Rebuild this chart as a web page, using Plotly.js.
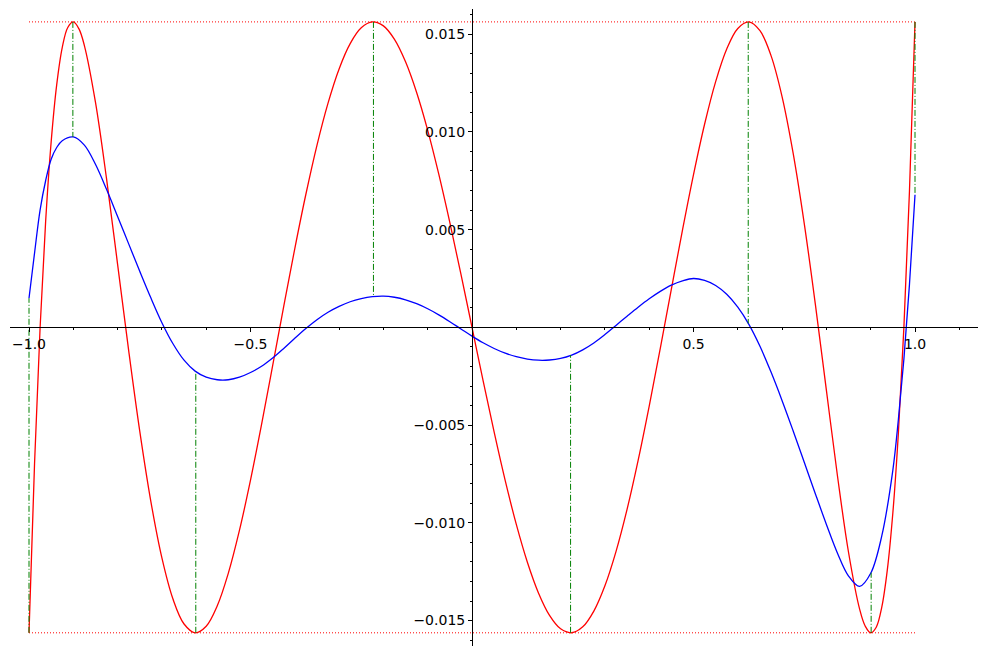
<!DOCTYPE html>
<html>
<head>
<meta charset="utf-8">
<script src="https://cdn.plot.ly/plotly-3.0.1.min.js"></script>
<style>html,body{margin:0;padding:0;background:#fff;}#chart{width:987px;height:656px;}</style>
</head>
<body>
<div id="chart"></div>
<script>
// Red curve (equioscillating polynomial)
const redX = [-1, -0.9875, -0.975, -0.9625, -0.95, -0.9375, -0.925, -0.9125, -0.9, -0.8875, -0.875, -0.85, -0.825, -0.8, -0.775, -0.75, -0.725, -0.7, -0.675, -0.65, -0.625, -0.6, -0.575, -0.55, -0.525, -0.5, -0.475, -0.45, -0.425, -0.4, -0.375, -0.35, -0.325, -0.3, -0.275, -0.25, -0.225, -0.2, -0.175, -0.15, -0.125, -0.1, -0.075, -0.05, -0.025,
  0, 0.025, 0.05, 0.075, 0.1, 0.125, 0.15, 0.175, 0.2, 0.225, 0.25, 0.275, 0.3, 0.325, 0.35, 0.375, 0.4, 0.425, 0.45, 0.475, 0.5, 0.525, 0.55, 0.575, 0.6, 0.625, 0.65, 0.675, 0.7, 0.725, 0.75, 0.775, 0.8, 0.825, 0.85, 0.875, 0.8875, 0.9, 0.9125, 0.925, 0.9375, 0.95, 0.9625, 0.975, 0.9875, 1];
const redY = [-0.015625, -0.006977, -0.000036, 0.0054, 0.009482, 0.012404, 0.014311, 0.015339, 0.015623, 0.015279, 0.014416, 0.011517, 0.007604, 0.003225, -0.001189, -0.005310, -0.008899, -0.011794, -0.013900, -0.015175, -0.015624, -0.015289, -0.014241, -0.012571, -0.010390, -0.007813, -0.004962, -0.001960, 0.001075, 0.004032, 0.006808, 0.009314, 0.011472, 0.013221, 0.014514, 0.015320, 0.015622, 0.015422, 0.014733, 0.013584, 0.012016, 0.010080, 0.007838, 0.005357, 0.002721,
  0, -0.002721, -0.005357, -0.007838, -0.010080, -0.012016, -0.013584, -0.014733, -0.015422, -0.015622, -0.015320, -0.014514, -0.013221, -0.011472, -0.009314, -0.006808, -0.004032, -0.001075, 0.001960, 0.004962, 0.007813, 0.010390, 0.012571, 0.014241, 0.015289, 0.015624, 0.015175, 0.013900, 0.011794, 0.008899, 0.005310, 0.001189, -0.003225, -0.007604, -0.011517, -0.014416, -0.015279, -0.015623, -0.015339, -0.014311, -0.012404, -0.009482, -0.0054, 0.000036, 0.006977, 0.015625];

// Blue curve, values
const blueX = [-1, -0.9875, -0.975, -0.9625, -0.95, -0.9375, -0.925, -0.9, -0.875, -0.85, -0.825, -0.8, -0.775, -0.75, -0.725, -0.7, -0.675, -0.65, -0.625, -0.6, -0.575, -0.55, -0.525, -0.5, -0.475, -0.45, -0.425, -0.4, -0.375, -0.35, -0.325, -0.3, -0.275, -0.25, -0.225, -0.2, -0.175, -0.15, -0.125, -0.1, -0.075, -0.05, -0.025,
  0, 0.025, 0.05, 0.075, 0.1, 0.125, 0.15, 0.175, 0.2, 0.225, 0.25, 0.275, 0.3, 0.325, 0.35, 0.375, 0.4, 0.425, 0.45, 0.475, 0.5, 0.525, 0.55, 0.575, 0.6, 0.625, 0.65, 0.675, 0.7, 0.725, 0.75, 0.775, 0.8, 0.825, 0.85, 0.875, 0.9, 0.925, 0.95, 0.9625, 0.975, 0.9875, 1];
const blueY = [0.00149, 0.0038, 0.006, 0.0075, 0.0086, 0.0092, 0.00955, 0.00974, 0.00932, 0.00834, 0.00706, 0.00567, 0.00427, 0.00287, 0.00151, 0.00024, -0.00084, -0.00168, -0.00224, -0.00255, -0.00268, -0.00268, -0.00255, -0.00231, -0.00199, -0.00157, -0.00108, -0.00056, -0.00006, 0.00039, 0.00077, 0.00107, 0.00131, 0.00147, 0.00157, 0.0016, 0.00154, 0.00141, 0.00121, 0.00095, 0.00064, 0.00029, -0.00008,
  -0.00045, -0.00079, -0.00108, -0.00132, -0.0015, -0.00162, -0.00168, -0.00167, -0.00159, -0.00142, -0.00115, -0.0008, -0.00037, 0.0001, 0.00057, 0.00103, 0.00146, 0.00184, 0.00216, 0.00238, 0.0025, 0.0024, 0.00214, 0.00169, 0.00103, 0.00015, -0.00097, -0.00229, -0.00375, -0.0053, -0.0069, -0.00851, -0.01008, -0.01155, -0.01272, -0.01325, -0.01258, -0.01067, -0.0073, -0.0047, -0.0016, 0.0022, 0.00678];

// Extremal points: x, red value, blue value
const extX = [-1, -0.901, -0.6235, -0.2225, 0.2225, 0.6235, 0.901, 1];
const extRed = [-0.015625, 0.015625, -0.015625, 0.015625, -0.015625, 0.015625, -0.015625, 0.015625];
const extBlue = [0.00149, 0.00974, -0.00226, 0.00157, -0.00142, 0.0002, -0.01255, 0.00678];

// Bound lines
const boundLevels = [0.015625, -0.015625];
const boundXs = [-1, 1];

// Tick labels
const xTickVals = [-1.0, -0.5, 0.5, 1.0];
const xTickText = ['\u22121.0', '\u22120.5', '0.5', '1.0'];
const yTickVals = [-0.015, -0.010, -0.005, 0.005, 0.010, 0.015];
const yTickText = ['\u22120.015', '\u22120.010', '\u22120.005', '0.005', '0.010', '0.015'];

const xRange = [-1.0429, 1.1422];
const yRange = [-0.0163, 0.016285];

const traces = [];
boundLevels.forEach(v => {
  traces.push({x: boundXs, y: [v, v], mode: 'lines', line: {color: '#ff0000', width: 1, dash: '1px,2px'}, hoverinfo: 'skip', showlegend: false});
});
traces.push({x: redX, y: redY, mode: 'lines', line: {color: '#ff0000', width: 1.3, shape: 'spline', smoothing: 1}, showlegend: false});
traces.push({x: blueX, y: blueY, mode: 'lines', line: {color: '#0000ff', width: 1.3, shape: 'spline', smoothing: 1}, showlegend: false});
extX.forEach((xv, i) => {
  traces.push({x: [xv, xv], y: [extRed[i], extBlue[i]], mode: 'lines', line: {color: '#008000', width: 1, dash: '6px,2px,1px,2px'}, hoverinfo: 'skip', showlegend: false});
});

const xPos = (0 - yRange[0]) / (yRange[1] - yRange[0]);
const yPos = (0 - xRange[0]) / (xRange[1] - xRange[0]);

const layout = {
  width: 987, height: 656,
  margin: {l: 10, r: 9, t: 9, b: 10, pad: 0},
  paper_bgcolor: '#ffffff', plot_bgcolor: '#ffffff',
  font: {family: 'DejaVu Sans, sans-serif', size: 14, color: '#000'},
  showlegend: false,
  xaxis: {
    range: xRange, anchor: 'free', position: xPos, automargin: false,
    showgrid: false, zeroline: false, showline: true, linecolor: '#000', linewidth: 1,
    tickmode: 'array', tickvals: xTickVals, ticktext: xTickText,
    ticks: 'outside', ticklen: 4, tickwidth: 1, tickcolor: '#000',
    minor: {tickmode: 'linear', tick0: 0, dtick: 0.1, ticks: 'outside', ticklen: 2, tickwidth: 1, tickcolor: '#000', showgrid: false},
    tickfont: {size: 14}
  },
  yaxis: {
    range: yRange, anchor: 'free', position: yPos, automargin: false,
    showgrid: false, zeroline: false, showline: true, linecolor: '#000', linewidth: 1,
    tickmode: 'array', tickvals: yTickVals, ticktext: yTickText,
    ticks: 'outside', ticklen: 4, tickwidth: 1, tickcolor: '#000',
    minor: {tickmode: 'linear', tick0: 0, dtick: 0.001, ticks: 'outside', ticklen: 2, tickwidth: 1, tickcolor: '#000', showgrid: false},
    tickfont: {size: 14}
  }
};

Plotly.newPlot('chart', traces, layout, {displayModeBar: false, staticPlot: true});
</script>
</body>
</html>
